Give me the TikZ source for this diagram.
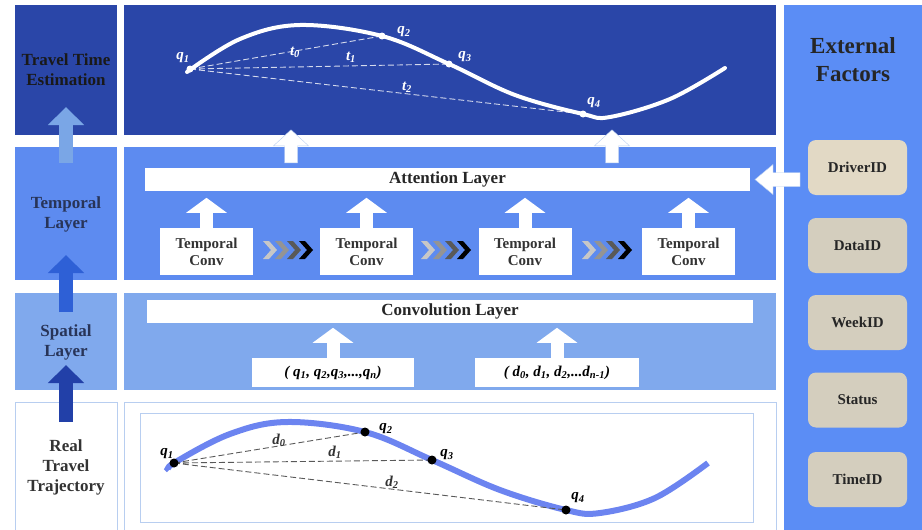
\documentclass[tikz,border=0pt]{standalone}
\usepackage{fontspec}
\setmainfont{Liberation Serif}
\usetikzlibrary{arrows.meta,positioning}

\definecolor{deepblue}{RGB}{42,70,168}
\definecolor{midblue}{RGB}{93,139,240}
\definecolor{paleblue}{RGB}{128,169,237}
\definecolor{extblue}{RGB}{91,141,245}
\definecolor{edgeblue}{RGB}{184,206,240}
\definecolor{factortan}{RGB}{212,206,190}
\definecolor{drivertan}{RGB}{226,217,197}
\definecolor{curveblue}{RGB}{108,132,240}
\definecolor{labelnavy}{RGB}{40,52,88}

\newcommand{\vsub}[2]{#1\textsubscript{#2}}

\begin{document}
\begin{tikzpicture}[x=1pt,y=-1pt]
    \tikzset{
        sidelbl/.style={align=center, font=\fontsize{17}{20}\selectfont\bfseries, text=labelnavy},
        layerbox/.style={fill=white, minimum height=23pt, font=\fontsize{17}{20}\selectfont\bfseries, text=black!85},
        convbox/.style={fill=white, minimum width=93pt, minimum height=47pt, align=center, font=\fontsize{15}{17}\selectfont\bfseries, text=black!80},
        inbox/.style={fill=white, minimum height=29pt, font=\fontsize{15}{17}\selectfont\bfseries\itshape},
        factor/.style={fill=factortan, rounded corners=8pt, minimum width=99pt, minimum height=55pt, font=\fontsize{15}{17}\selectfont\bfseries, text=black!85},
        qlbl/.style={font=\fontsize{15}{17}\selectfont\bfseries\itshape, inner sep=0},
        sideblk/.style={line width=14pt, -{Triangle[length=18pt,width=35pt]}},
        tcblk/.style={white, line width=13pt, -{Triangle[length=15pt,width=40pt]}},
        trip/.style={dash pattern=on 6pt off 3pt, line width=0.9pt},
        % block arrow: length, half shaft, half head, head length
        pics/blk/.style n args={4}{code={
            \path[pic actions] (-#2,0) -- (-#2,-#1+#4) -- (-#3,-#1+#4) -- (0,-#1) -- (#3,-#1+#4) -- (#2,-#1+#4) -- (#2,0) -- cycle;
        }}
    }

    \useasboundingbox (0,0) rectangle (922,530);

    % panels
    \fill[deepblue] (15,5) rectangle (117,135);
    \fill[midblue] (15,147) rectangle (117,280);
    \fill[paleblue] (15,293) rectangle (117,390);
    \draw[edgeblue] (15,402) rectangle (117,533);
    \fill[deepblue] (124,5) rectangle (776,135);
    \fill[midblue] (124,147) rectangle (776,280);
    \fill[paleblue] (124,293) rectangle (776,390);
    \draw[edgeblue] (124,402) rectangle (776,533);
    \draw[edgeblue] (140,413) rectangle (753,522);
    \fill[extblue] (784,5) rectangle (922,530);

    % left column
    \node[sidelbl, text=black!90] (est) at (66,70) {Travel Time\\Estimation};
    \node[sidelbl] (tmp) at (66,214) {Temporal\\Layer};
    \node[sidelbl] (spa) at (66,342) {Spatial\\Layer};
    \node[sidelbl, text=black!80] (real) at (66,467) {Real\\Travel\\Trajectory};
    \coordinate (s1) at (66,163);
    \coordinate (s2) at (66,312);
    \coordinate (s3) at (66,422);
    \draw[sideblk, color={rgb,255:red,122;green,166;blue,230}] (s1) -- ++(0,-56);
    \draw[sideblk, color={rgb,255:red,46;green,96;blue,214}] (s2) -- ++(0,-57);
    \draw[sideblk, color={rgb,255:red,34;green,64;blue,168}] (s3) -- ++(0,-57);

    % estimated trajectory
    \coordinate (p1) at (190,69);
    \coordinate (p2) at (382,36);
    \coordinate (p3) at (449,64);
    \coordinate (p4) at (583,114);
    \draw[white, line width=4pt, line cap=round] plot[smooth, tension=0.6] coordinates {(187,72) (240,39) (300,25) (p2) (p3) (515,95) (p4) (610,117) (670,99) (725,68)};
    \draw[white, opacity=0.8, trip] (p1) -- (p2) (p1) -- (p3) (p1) -- (p4);
    \foreach \p in {p1,p2,p3,p4} \fill[white] (\p) circle (3.5);
    \node[qlbl, white] (lp1) at (183,58) {\vsub{q}{1}};
    \node[qlbl, white] (lp2) at (404,32) {\vsub{q}{2}};
    \node[qlbl, white] (lp3) at (465,57) {\vsub{q}{3}};
    \node[qlbl, white] (lp4) at (594,103) {\vsub{q}{4}};
    \node[qlbl, white] (t0) at (295,52) {\vsub{t}{0}};
    \node[qlbl, white] (t1) at (351,57) {\vsub{t}{1}};
    \node[qlbl, white] (t2) at (407,87) {\vsub{t}{2}};

    % temporal layer
    \node[layerbox, minimum width=605pt] (attn) at (447.5,179.5) {Attention Layer};
    \pic[fill=white, draw=edgeblue] at ([xshift=-156.5pt,yshift=5pt]attn.north) {blk={33}{6.5}{17.5}{16}};
    \pic[fill=white, draw=edgeblue] at ([xshift=164.5pt,yshift=5pt]attn.north) {blk={33}{6.5}{17.5}{16}};
    \node[convbox] (tc1) at (206.5,251.5) {Temporal\\Conv};
    \node[convbox] (tc2) at (366.5,251.5) {Temporal\\Conv};
    \node[convbox] (tc3) at (525,251.5) {Temporal\\Conv};
    \node[convbox] (tc4) at (688.5,251.5) {Temporal\\Conv};
    \foreach \t in {tc1,tc2,tc3,tc4} \draw[tcblk] (\t.north) -- ++(0,-30);
    \foreach \cx in {263,421,582}
        \foreach \c [count=\i] in {black!22,black!42,black!65,black} {
            \fill[\c] (\cx+12*\i-12,241) -- ++(6,0) -- ++(8,9) -- ++(-8,9) -- ++(-6,0) -- ++(8,-9) -- cycle;
        }

    % spatial layer
    \node[layerbox, minimum width=606pt] (conv) at (450,311.5) {Convolution Layer};
    \node[inbox, minimum width=162pt] (in1) at (333,372.5) {( \vsub{q}{1}, \vsub{q}{2},\vsub{q}{3},...,\vsub{q}{n})};
    \node[inbox, minimum width=164pt] (in2) at (557,372.5) {( \vsub{d}{0}, \vsub{d}{1}, \vsub{d}{2},...\vsub{d}{n-1})};
    \draw[tcblk] (in1.north) -- ++(0,-30);
    \draw[tcblk] (in2.north) -- ++(0,-30);

    % real trajectory
    \coordinate (b1) at (174,463);
    \coordinate (b2) at (365,432);
    \coordinate (b3) at (432,460);
    \coordinate (b4) at (566,510);
    \draw[curveblue, line width=6pt] plot[smooth, tension=0.6] coordinates {(169,470) (b1) (230,434) (287,422) (b2) (b3) (500,490) (b4) (600,513) (655,498) (708,463)};
    \draw[black!65, trip] (b1) -- (b2) (b1) -- (b3) (b1) -- (b4);
    \foreach \p in {b1,b2,b3,b4} \fill (\p) circle (4.5);
    \node[qlbl] (lb1) at (167,454) {\vsub{q}{1}};
    \node[qlbl] (lb2) at (386,429) {\vsub{q}{2}};
    \node[qlbl] (lb3) at (447,455) {\vsub{q}{3}};
    \node[qlbl] (lb4) at (578,498) {\vsub{q}{4}};
    \node[qlbl, black!80] (d0) at (279,440) {\vsub{d}{0}};
    \node[qlbl, black!80] (d1) at (335,452) {\vsub{d}{1}};
    \node[qlbl, black!80] (d2) at (392,482) {\vsub{d}{2}};

    % external factors
    \node[align=center, font=\fontsize{23}{28}\selectfont\bfseries, text=black!85] (ext) at (853,60) {External\\Factors};
    \node[factor, fill=drivertan] (f1) at (857.5,167.5) {DriverID};
    \node[factor] (f2) at (857.5,245.5) {DataID};
    \node[factor] (f3) at (857.5,322.5) {WeekID};
    \node[factor] (f4) at (857.5,400) {Status};
    \node[factor] (f5) at (857.5,479.5) {TimeID};
    \coordinate (drv) at (800,179.5);
    \pic[rotate=90, fill=white, draw=edgeblue] at (drv) {blk={45}{7}{15}{18}};
\end{tikzpicture}
\end{document}
